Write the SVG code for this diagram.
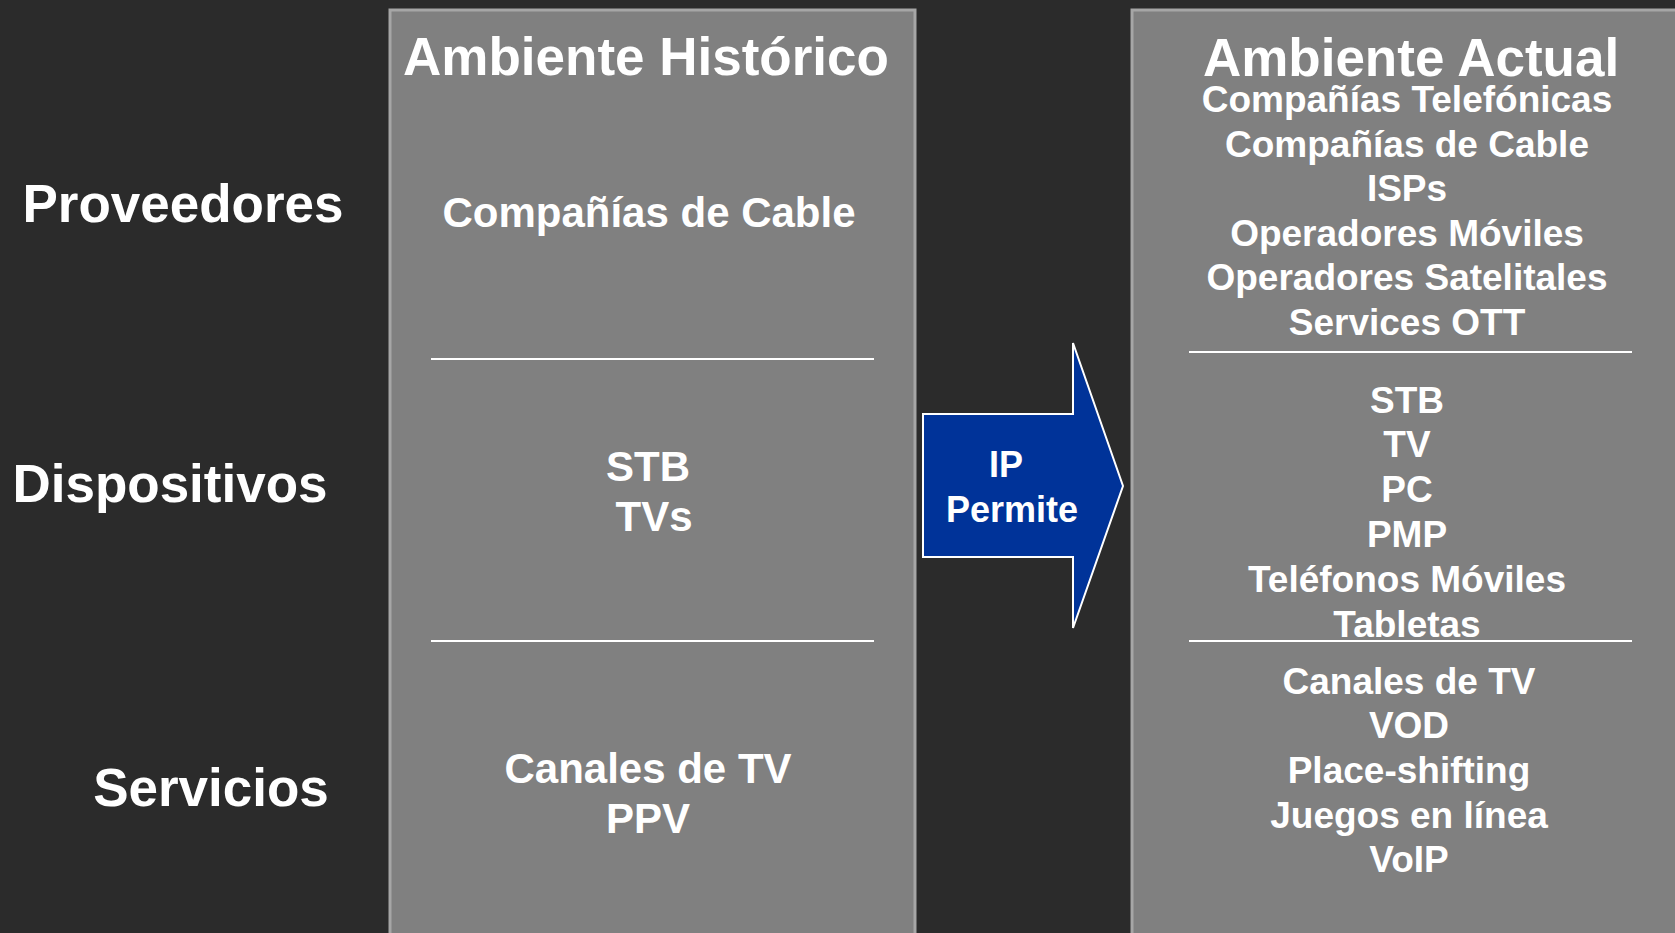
<svg xmlns="http://www.w3.org/2000/svg" width="1675" height="933" viewBox="0 0 1675 933">
<style>
.t{font-family:"Liberation Sans",Arial,sans-serif;font-weight:bold;fill:#ffffff;text-anchor:middle}
.lab{font-size:53px}
.title{font-size:53px}
.l{font-size:42px}
.r{font-size:37px}
.panel{fill:#808080;stroke:#a6a6a6;stroke-width:3}
.sep{stroke:#ffffff;stroke-width:2}
</style>
<rect width="1675" height="933" fill="#2b2b2b"/>
<g id="labels">
<text class="t lab" x="183" y="222">Proveedores</text>
<text class="t lab" x="170" y="502">Dispositivos</text>
<text class="t lab" x="211" y="806">Servicios</text>
</g>
<g id="historico">
<rect class="panel" x="390" y="10" width="525" height="940"/>
<text class="t title" x="646" y="75">Ambiente Histórico</text>
<line class="sep" x1="431" y1="359" x2="874" y2="359"/>
<line class="sep" x1="431" y1="641" x2="874" y2="641"/>
<text class="t l" x="649" y="227">Compañías de Cable</text>
<text class="t l" x="648" y="481">STB</text>
<text class="t l" x="654" y="531">TVs</text>
<text class="t l" x="648" y="783">Canales de TV</text>
<text class="t l" x="648" y="833">PPV</text>
</g>
<g id="actual">
<rect class="panel" x="1132" y="10" width="560" height="940"/>
<text class="t title" x="1411" y="76">Ambiente Actual</text>
<line class="sep" x1="1189" y1="352" x2="1632" y2="352"/>
<line class="sep" x1="1189" y1="641" x2="1632" y2="641"/>
<text class="t r" x="1407" y="112">Compañías Telefónicas</text>
<text class="t r" x="1407" y="157">Compañías de Cable</text>
<text class="t r" x="1407" y="201">ISPs</text>
<text class="t r" x="1407" y="246">Operadores Móviles</text>
<text class="t r" x="1407" y="290">Operadores Satelitales</text>
<text class="t r" x="1407" y="335">Services OTT</text>
<text class="t r" x="1407" y="413">STB</text>
<text class="t r" x="1407" y="457">TV</text>
<text class="t r" x="1407" y="502">PC</text>
<text class="t r" x="1407" y="547">PMP</text>
<text class="t r" x="1407" y="592">Teléfonos Móviles</text>
<text class="t r" x="1407" y="637">Tabletas</text>
<text class="t r" x="1409" y="694">Canales de TV</text>
<text class="t r" x="1409" y="738">VOD</text>
<text class="t r" x="1409" y="783">Place-shifting</text>
<text class="t r" x="1409" y="828">Juegos en línea</text>
<text class="t r" x="1409" y="872">VoIP</text>
</g>
<g id="connectors">
<g id="arrow-ip">
<polygon points="923,414 1073,414 1073,343 1123,486 1073,628 1073,557 923,557" fill="#003399" stroke="#ffffff" stroke-width="2"/>
<text class="t" style="font-size:36px" x="1006" y="477">IP</text>
<text class="t" style="font-size:36px" x="1012" y="522">Permite</text>
</g>
</g>
</svg>
